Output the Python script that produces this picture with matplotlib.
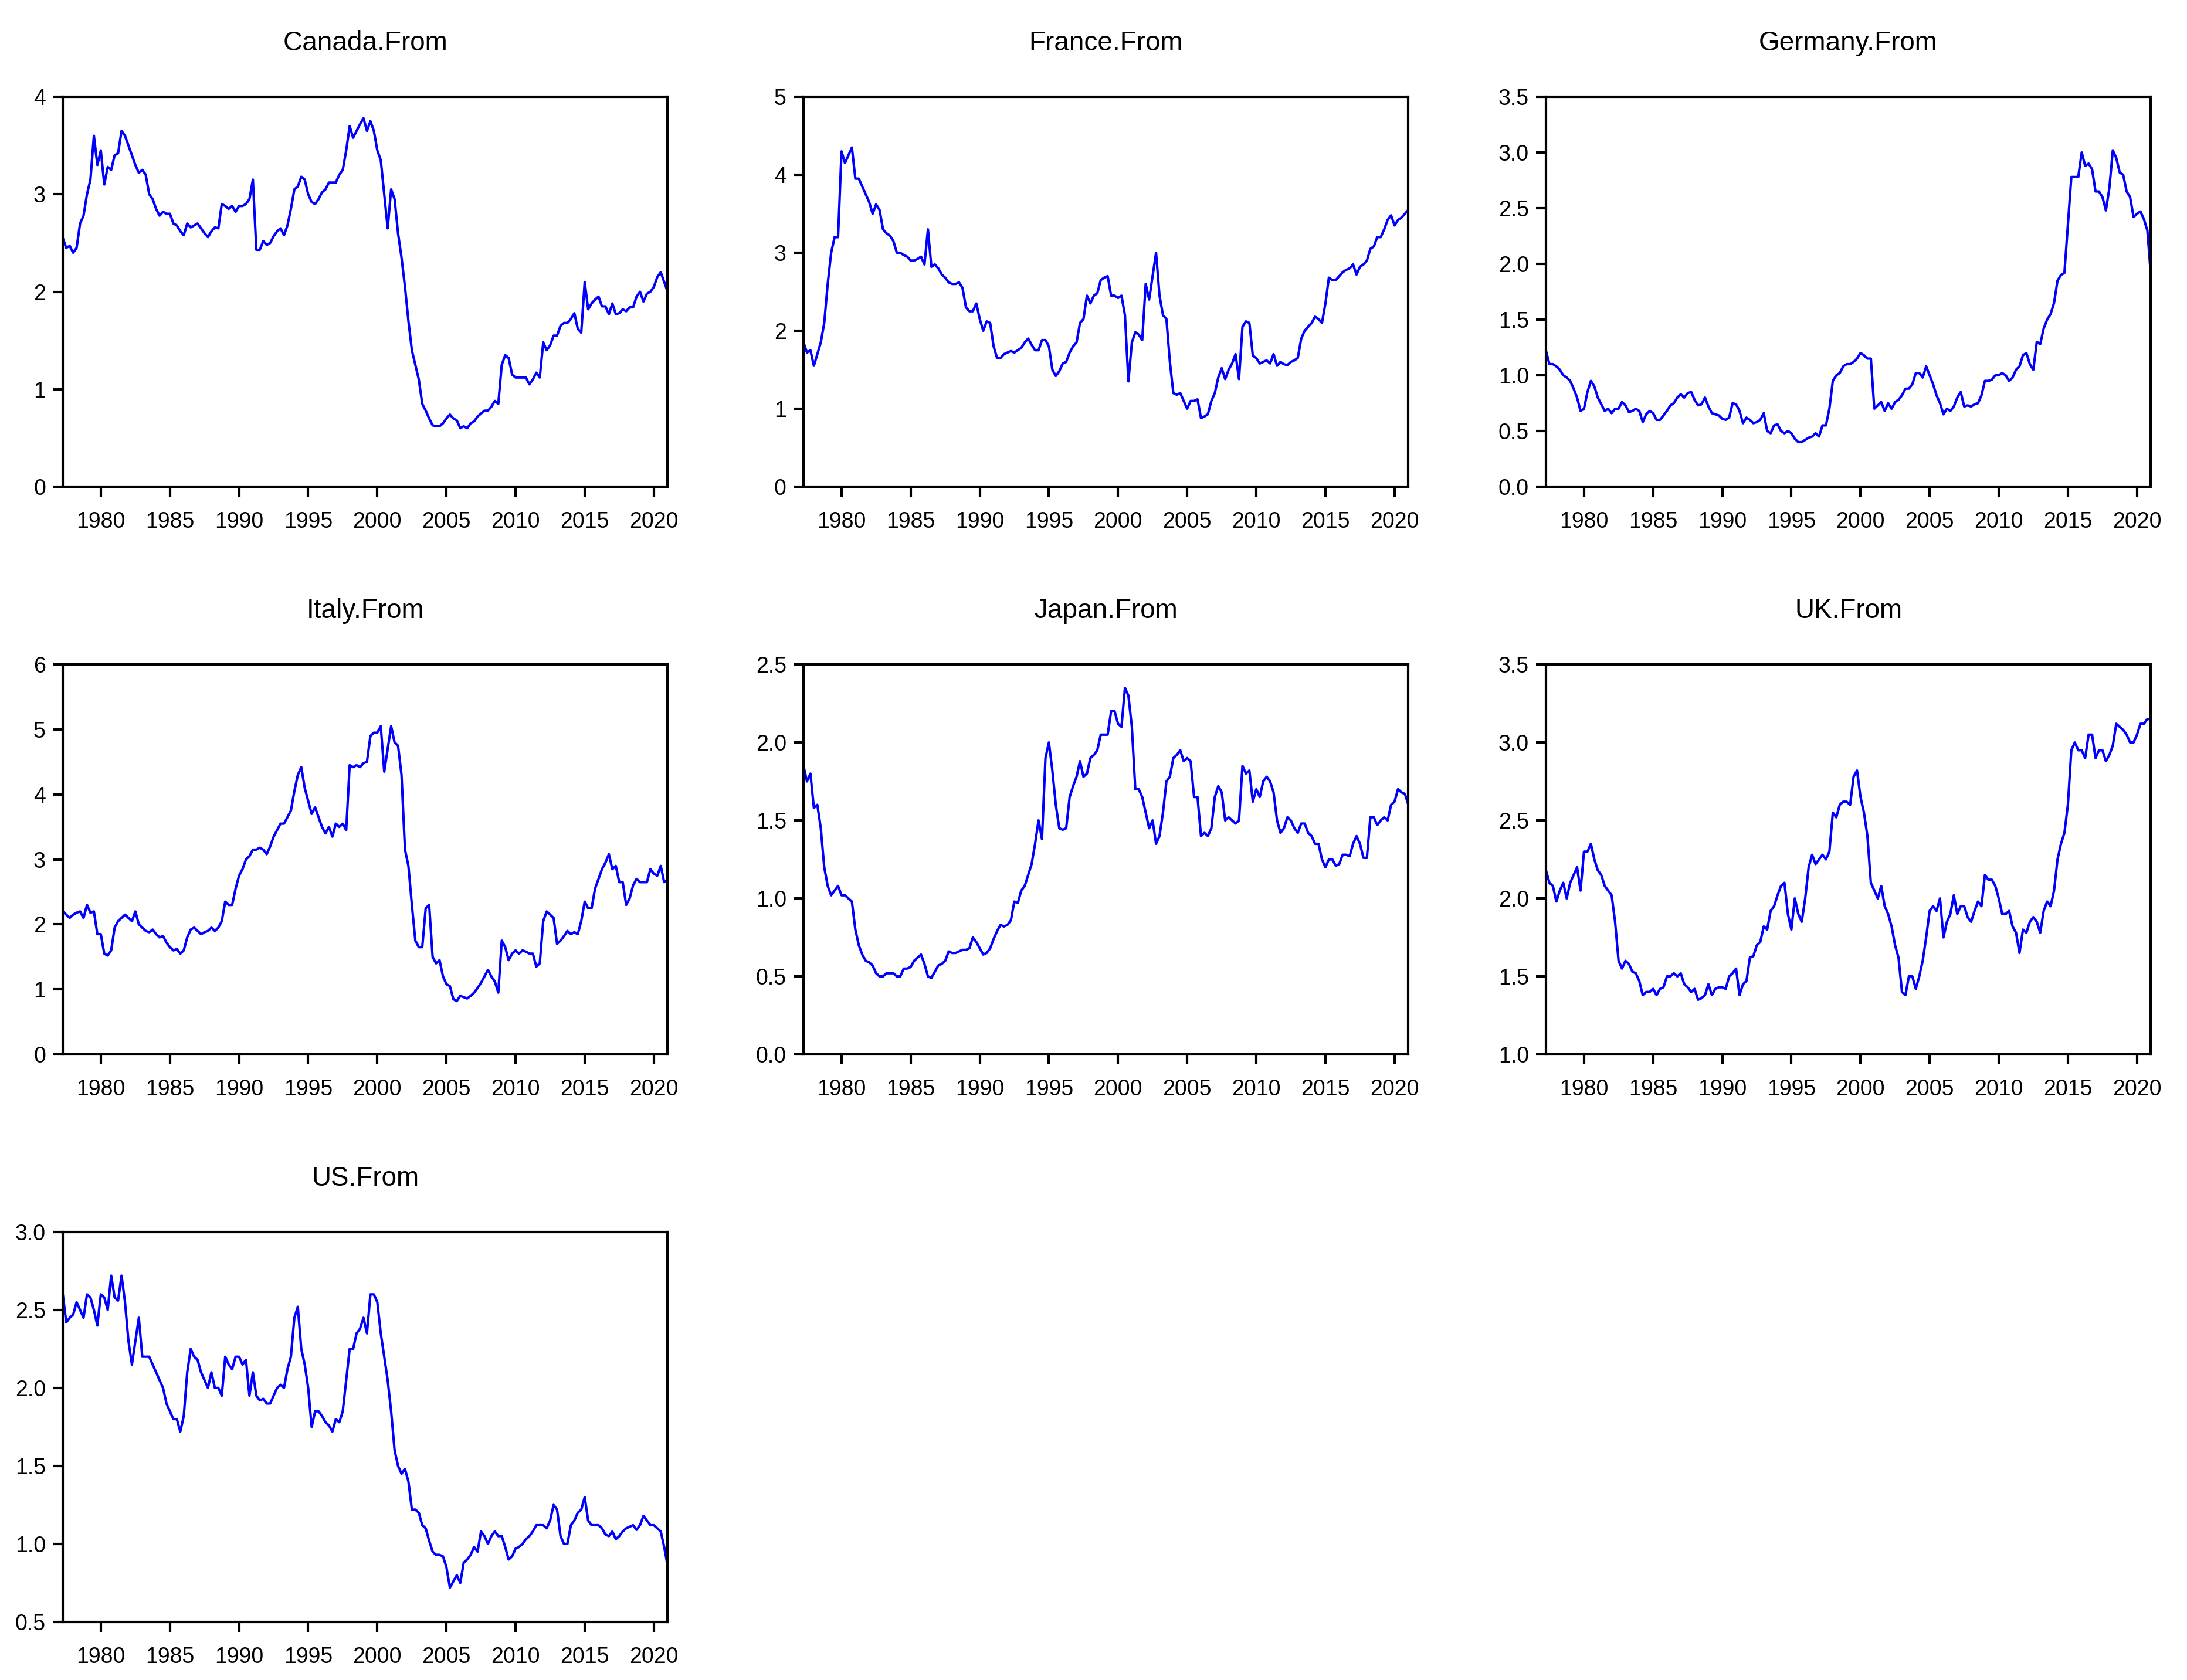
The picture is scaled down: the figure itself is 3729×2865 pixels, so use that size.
import matplotlib
matplotlib.use("Agg")
import matplotlib.pyplot as plt
import numpy as np

plt.rcParams["font.family"] = ["Liberation Sans Narrow", "Liberation Sans", "DejaVu Sans"]

# quarterly readings, 1977.25 .. 2021.0
start_year = 1977.25
end_year = 2021.0

canada = [
    2.55, 2.45, 2.47,
    2.40, 2.45, 2.70, 2.78,
    3.00, 3.15, 3.60, 3.30,
    3.45, 3.10, 3.28, 3.25,
    3.40, 3.42, 3.65, 3.60,
    3.50, 3.40, 3.30, 3.22,
    3.25, 3.20, 3.00, 2.95,
    2.85, 2.78, 2.82, 2.80,
    2.80, 2.70, 2.68, 2.62,
    2.58, 2.70, 2.66, 2.68,
    2.70, 2.65, 2.60, 2.56,
    2.62, 2.66, 2.65, 2.90,
    2.88, 2.85, 2.88, 2.82,
    2.88, 2.88, 2.90, 2.95,
    3.15, 2.43, 2.43, 2.52,
    2.48, 2.50, 2.57, 2.62,
    2.65, 2.58, 2.68, 2.85,
    3.05, 3.08, 3.18, 3.15,
    3.00, 2.92, 2.90, 2.95,
    3.02, 3.05, 3.12, 3.12,
    3.12, 3.20, 3.25, 3.45,
    3.70, 3.58, 3.65, 3.72,
    3.78, 3.65, 3.75, 3.65,
    3.45, 3.35, 3.00, 2.65,
    3.05, 2.95, 2.60, 2.35,
    2.05, 1.70, 1.40, 1.25,
    1.10, 0.85, 0.78, 0.70,
    0.63, 0.62, 0.62, 0.65,
    0.70, 0.74, 0.70, 0.68,
    0.60, 0.62, 0.60, 0.65,
    0.67, 0.72, 0.75, 0.78,
    0.78, 0.82, 0.88, 0.85,
    1.25, 1.35, 1.32, 1.15,
    1.12, 1.12, 1.12, 1.12,
    1.05, 1.10, 1.17, 1.12,
    1.48, 1.40, 1.45, 1.55,
    1.55, 1.65, 1.68, 1.68,
    1.72, 1.78, 1.62, 1.58,
    2.10, 1.82, 1.88, 1.92,
    1.95, 1.85, 1.85, 1.77,
    1.88, 1.77, 1.78, 1.82,
    1.80, 1.84, 1.84, 1.95,
    2.00, 1.90, 1.98, 2.00,
    2.05, 2.15, 2.20, 2.10,
    2.00,
]

france = [
    1.85, 1.72, 1.75,
    1.55, 1.70, 1.85, 2.10,
    2.60, 3.00, 3.20, 3.20,
    4.30, 4.15, 4.25, 4.35,
    3.95, 3.95, 3.85, 3.75,
    3.65, 3.50, 3.62, 3.55,
    3.30, 3.25, 3.22, 3.15,
    3.00, 3.00, 2.97, 2.95,
    2.90, 2.90, 2.92, 2.95,
    2.85, 3.30, 2.82, 2.85,
    2.80, 2.72, 2.68, 2.62,
    2.60, 2.60, 2.62, 2.55,
    2.30, 2.25, 2.25, 2.35,
    2.15, 2.00, 2.12, 2.10,
    1.80, 1.65, 1.65, 1.70,
    1.72, 1.74, 1.72, 1.75,
    1.78, 1.85, 1.90, 1.82,
    1.75, 1.75, 1.88, 1.88,
    1.80, 1.50, 1.42, 1.48,
    1.58, 1.60, 1.72, 1.80,
    1.85, 2.10, 2.15, 2.45,
    2.35, 2.45, 2.48, 2.65,
    2.68, 2.70, 2.45, 2.45,
    2.42, 2.45, 2.20, 1.35,
    1.85, 1.98, 1.95, 1.88,
    2.60, 2.40, 2.70, 3.00,
    2.45, 2.20, 2.15, 1.60,
    1.20, 1.18, 1.20, 1.10,
    1.00, 1.10, 1.10, 1.12,
    0.88, 0.90, 0.93, 1.10,
    1.20, 1.40, 1.52, 1.38,
    1.50, 1.58, 1.70, 1.38,
    2.05, 2.12, 2.10, 1.68,
    1.65, 1.58, 1.60, 1.62,
    1.58, 1.70, 1.55, 1.60,
    1.57, 1.56, 1.60, 1.62,
    1.65, 1.90, 2.00, 2.05,
    2.10, 2.18, 2.15, 2.10,
    2.35, 2.68, 2.65, 2.65,
    2.70, 2.75, 2.78, 2.80,
    2.85, 2.72, 2.82, 2.85,
    2.90, 3.05, 3.08, 3.20,
    3.20, 3.30, 3.42, 3.48,
    3.35, 3.42, 3.45, 3.50,
    3.55,
]

germany = [
    1.22, 1.10, 1.10,
    1.08, 1.05, 1.00, 0.98,
    0.95, 0.88, 0.80, 0.68,
    0.70, 0.85, 0.95, 0.90,
    0.80, 0.74, 0.68, 0.70,
    0.66, 0.70, 0.70, 0.76,
    0.73, 0.67, 0.68, 0.70,
    0.68, 0.58, 0.65, 0.68,
    0.66, 0.60, 0.60, 0.64,
    0.68, 0.73, 0.75, 0.80,
    0.83, 0.80, 0.84, 0.85,
    0.78, 0.73, 0.74, 0.80,
    0.72, 0.66, 0.65, 0.64,
    0.61, 0.60, 0.62, 0.75,
    0.74, 0.68, 0.57, 0.62,
    0.60, 0.57, 0.58, 0.60,
    0.66, 0.50, 0.48, 0.55,
    0.56, 0.50, 0.48, 0.50,
    0.48, 0.43, 0.40, 0.40,
    0.42, 0.44, 0.45, 0.48,
    0.45, 0.55, 0.55, 0.70,
    0.95, 1.00, 1.02, 1.08,
    1.10, 1.10, 1.12, 1.15,
    1.20, 1.18, 1.15, 1.15,
    0.70, 0.73, 0.76, 0.68,
    0.75, 0.70, 0.76, 0.78,
    0.82, 0.88, 0.88, 0.92,
    1.02, 1.02, 0.98, 1.08,
    1.00, 0.92, 0.82, 0.75,
    0.65, 0.70, 0.68, 0.72,
    0.80, 0.85, 0.72, 0.73,
    0.72, 0.74, 0.75, 0.82,
    0.95, 0.95, 0.96, 1.00,
    1.00, 1.02, 1.00, 0.95,
    0.98, 1.05, 1.08, 1.18,
    1.20, 1.10, 1.05, 1.30,
    1.28, 1.42, 1.50, 1.55,
    1.65, 1.85, 1.90, 1.92,
    2.35, 2.78, 2.78, 2.78,
    3.00, 2.88, 2.90, 2.85,
    2.65, 2.65, 2.60, 2.48,
    2.68, 3.02, 2.95, 2.82,
    2.80, 2.65, 2.60, 2.42,
    2.45, 2.47, 2.40, 2.30,
    1.90,
]

italy = [
    2.20, 2.15, 2.10,
    2.15, 2.18, 2.20, 2.10,
    2.30, 2.18, 2.20, 1.85,
    1.85, 1.55, 1.52, 1.60,
    1.95, 2.05, 2.10, 2.15,
    2.10, 2.05, 2.20, 2.00,
    1.95, 1.90, 1.88, 1.92,
    1.85, 1.80, 1.82, 1.72,
    1.65, 1.60, 1.62, 1.55,
    1.60, 1.80, 1.92, 1.95,
    1.90, 1.85, 1.88, 1.90,
    1.95, 1.90, 1.95, 2.05,
    2.35, 2.30, 2.30, 2.55,
    2.75, 2.85, 3.00, 3.05,
    3.15, 3.15, 3.18, 3.15,
    3.08, 3.20, 3.35, 3.45,
    3.55, 3.55, 3.65, 3.75,
    4.05, 4.30, 4.42, 4.10,
    3.90, 3.70, 3.80, 3.65,
    3.50, 3.40, 3.50, 3.35,
    3.55, 3.50, 3.55, 3.45,
    4.45, 4.42, 4.45, 4.42,
    4.48, 4.50, 4.90, 4.95,
    4.95, 5.05, 4.35, 4.70,
    5.05, 4.80, 4.75, 4.30,
    3.15, 2.90, 2.30, 1.75,
    1.65, 1.65, 2.25, 2.30,
    1.50, 1.40, 1.45, 1.20,
    1.08, 1.05, 0.85, 0.82,
    0.90, 0.88, 0.86, 0.90,
    0.95, 1.02, 1.10, 1.20,
    1.30, 1.20, 1.12, 0.95,
    1.75, 1.65, 1.45, 1.55,
    1.60, 1.55, 1.60, 1.58,
    1.55, 1.55, 1.35, 1.40,
    2.05, 2.20, 2.15, 2.10,
    1.70, 1.75, 1.82, 1.90,
    1.85, 1.88, 1.85, 2.05,
    2.35, 2.25, 2.25, 2.55,
    2.70, 2.85, 2.95, 3.08,
    2.85, 2.90, 2.65, 2.65,
    2.30, 2.40, 2.60, 2.70,
    2.65, 2.65, 2.65, 2.85,
    2.78, 2.75, 2.90, 2.65,
    2.68,
]

japan = [
    1.85, 1.75, 1.80,
    1.58, 1.60, 1.45, 1.20,
    1.08, 1.02, 1.05, 1.08,
    1.02, 1.02, 1.00, 0.98,
    0.80, 0.70, 0.64, 0.60,
    0.59, 0.57, 0.52, 0.50,
    0.50, 0.52, 0.52, 0.52,
    0.50, 0.50, 0.55, 0.55,
    0.56, 0.60, 0.62, 0.64,
    0.58, 0.50, 0.49, 0.53,
    0.57, 0.58, 0.60, 0.66,
    0.65, 0.65, 0.66, 0.67,
    0.67, 0.68, 0.75, 0.72,
    0.68, 0.64, 0.65, 0.68,
    0.74, 0.79, 0.83, 0.82,
    0.83, 0.86, 0.98, 0.97,
    1.05, 1.08, 1.15, 1.22,
    1.35, 1.50, 1.38, 1.90,
    2.00, 1.82, 1.60, 1.45,
    1.44, 1.45, 1.65, 1.72,
    1.78, 1.88, 1.78, 1.80,
    1.90, 1.92, 1.95, 2.05,
    2.05, 2.05, 2.20, 2.20,
    2.12, 2.10, 2.35, 2.30,
    2.10, 1.70, 1.70, 1.65,
    1.55, 1.45, 1.50, 1.35,
    1.40, 1.55, 1.75, 1.78,
    1.90, 1.92, 1.95, 1.88,
    1.90, 1.88, 1.65, 1.65,
    1.40, 1.42, 1.40, 1.45,
    1.65, 1.72, 1.68, 1.50,
    1.52, 1.50, 1.48, 1.50,
    1.85, 1.80, 1.82, 1.62,
    1.70, 1.65, 1.75, 1.78,
    1.75, 1.68, 1.50, 1.42,
    1.45, 1.52, 1.50, 1.45,
    1.42, 1.48, 1.48, 1.42,
    1.40, 1.35, 1.35, 1.25,
    1.20, 1.25, 1.25, 1.21,
    1.22, 1.28, 1.28, 1.27,
    1.35, 1.40, 1.35, 1.26,
    1.26, 1.52, 1.52, 1.47,
    1.50, 1.52, 1.50, 1.60,
    1.62, 1.70, 1.68, 1.67,
    1.60,
]

uk = [
    2.18, 2.10, 2.08,
    1.98, 2.05, 2.10, 2.00,
    2.10, 2.15, 2.20, 2.05,
    2.30, 2.30, 2.35, 2.25,
    2.18, 2.15, 2.08, 2.05,
    2.02, 1.85, 1.60, 1.55,
    1.60, 1.58, 1.53, 1.52,
    1.47, 1.38, 1.40, 1.40,
    1.42, 1.38, 1.42, 1.43,
    1.50, 1.50, 1.52, 1.50,
    1.52, 1.45, 1.43, 1.40,
    1.42, 1.35, 1.36, 1.38,
    1.45, 1.38, 1.42, 1.43,
    1.43, 1.42, 1.50, 1.52,
    1.55, 1.38, 1.45, 1.47,
    1.62, 1.63, 1.70, 1.72,
    1.82, 1.80, 1.92, 1.95,
    2.02, 2.08, 2.10, 1.90,
    1.80, 2.00, 1.90, 1.85,
    2.00, 2.20, 2.28, 2.22,
    2.25, 2.28, 2.25, 2.30,
    2.55, 2.52, 2.60, 2.62,
    2.62, 2.60, 2.78, 2.82,
    2.65, 2.55, 2.40, 2.10,
    2.05, 2.00, 2.08, 1.95,
    1.90, 1.82, 1.70, 1.62,
    1.40, 1.38, 1.50, 1.50,
    1.42, 1.50, 1.60, 1.75,
    1.92, 1.95, 1.92, 2.00,
    1.75, 1.85, 1.90, 2.02,
    1.90, 1.95, 1.95, 1.88,
    1.85, 1.92, 1.98, 1.95,
    2.15, 2.12, 2.12, 2.08,
    2.00, 1.90, 1.90, 1.92,
    1.82, 1.78, 1.65, 1.80,
    1.78, 1.85, 1.88, 1.85,
    1.78, 1.92, 1.98, 1.95,
    2.05, 2.25, 2.35, 2.42,
    2.60, 2.95, 3.00, 2.95,
    2.95, 2.90, 3.05, 3.05,
    2.90, 2.95, 2.95, 2.88,
    2.92, 2.98, 3.12, 3.10,
    3.08, 3.05, 3.00, 3.00,
    3.05, 3.12, 3.12, 3.15,
    3.15,
]

us = [
    2.60, 2.42, 2.45,
    2.47, 2.55, 2.50, 2.45,
    2.60, 2.58, 2.50, 2.40,
    2.60, 2.58, 2.50, 2.72,
    2.58, 2.56, 2.72, 2.55,
    2.30, 2.15, 2.30, 2.45,
    2.20, 2.20, 2.20, 2.15,
    2.10, 2.05, 2.00, 1.90,
    1.85, 1.80, 1.80, 1.72,
    1.82, 2.10, 2.25, 2.20,
    2.18, 2.10, 2.05, 2.00,
    2.10, 2.00, 2.00, 1.95,
    2.20, 2.15, 2.12, 2.20,
    2.20, 2.15, 2.18, 1.95,
    2.10, 1.95, 1.92, 1.93,
    1.90, 1.90, 1.95, 2.00,
    2.02, 2.00, 2.12, 2.20,
    2.45, 2.52, 2.25, 2.15,
    2.00, 1.75, 1.85, 1.85,
    1.82, 1.78, 1.76, 1.72,
    1.80, 1.78, 1.85, 2.05,
    2.25, 2.25, 2.35, 2.38,
    2.45, 2.35, 2.60, 2.60,
    2.55, 2.35, 2.20, 2.05,
    1.85, 1.60, 1.50, 1.45,
    1.48, 1.40, 1.22, 1.22,
    1.20, 1.12, 1.10, 1.02,
    0.95, 0.93, 0.93, 0.92,
    0.85, 0.72, 0.76, 0.80,
    0.75, 0.88, 0.90, 0.93,
    0.98, 0.95, 1.08, 1.05,
    1.00, 1.05, 1.08, 1.05,
    1.05, 0.98, 0.90, 0.92,
    0.97, 0.98, 1.00, 1.03,
    1.05, 1.08, 1.12, 1.12,
    1.12, 1.10, 1.15, 1.25,
    1.22, 1.05, 1.00, 1.00,
    1.12, 1.15, 1.20, 1.22,
    1.30, 1.15, 1.12, 1.12,
    1.12, 1.10, 1.06, 1.05,
    1.08, 1.03, 1.05, 1.08,
    1.10, 1.11, 1.12, 1.09,
    1.12, 1.18, 1.15, 1.12,
    1.12, 1.10, 1.08, 0.98,
    0.86,
]

titles = ["Canada.From", "France.From", "Germany.From",
          "Italy.From", "Japan.From", "UK.From", "US.From"]
series = [canada, france, germany, italy, japan, uk, us]
y_limits = [(0, 4), (0, 5), (0, 3.5), (0, 6), (0, 2.5), (1.0, 3.5), (0.5, 3.0)]
y_steps = [1, 1, 0.5, 1, 0.5, 0.5, 0.5]
x_ticks = [1980, 1985, 1990, 1995, 2000, 2005, 2010, 2015, 2020]

fig = plt.figure(figsize=(12.4333, 9.55), dpi=300)

lefts = [0.0287, 0.3673, 0.7067]
bottoms = [0.7103, 0.3724, 0.0346]
width = 0.2765
height = 0.2321

for index, (title, values) in enumerate(zip(titles, series)):
    row, col = divmod(index, 3)
    ax = fig.add_axes([lefts[col], bottoms[row], width, height])

    x = np.linspace(start_year, end_year, len(values))
    ax.plot(x, values, color="#0000ff", linewidth=1.0)

    ax.set_xlim(start_year, end_year)
    low, high = y_limits[index]
    ax.set_ylim(low, high)
    ax.set_xticks(x_ticks)
    y_ticks = np.arange(low, high + 1e-9, y_steps[index])
    ax.set_yticks(y_ticks)
    if y_steps[index] < 1:
        ax.set_yticklabels([f"{v:.1f}" for v in y_ticks])
    else:
        ax.set_yticklabels([f"{v:.0f}" for v in y_ticks])

    for spine in ax.spines.values():
        spine.set_linewidth(1.0)
    ax.tick_params(axis="both", direction="out", length=4, width=1.0,
                   labelsize=9)
    ax.tick_params(axis="x", pad=6)
    ax.tick_params(axis="y", pad=3)

    ax.set_title(title, fontsize=11, pad=19)

fig.savefig("out.png", dpi=300)
